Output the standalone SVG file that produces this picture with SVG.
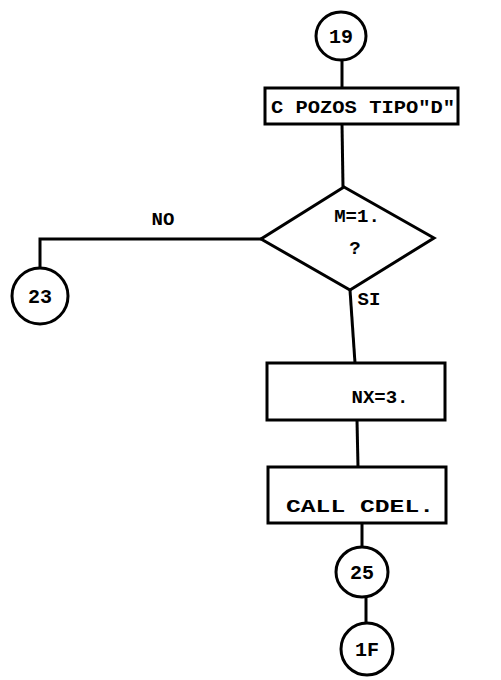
<svg xmlns="http://www.w3.org/2000/svg" width="501" height="680" viewBox="0 0 501 680">
<style>
.s{fill:#fff;stroke:#000;stroke-width:3}
.c{fill:none;stroke:#000;stroke-width:3}
text{font-family:"Liberation Mono","DejaVu Sans Mono",monospace;font-weight:bold;fill:#000;text-anchor:middle}
.t{font-size:19px}
.n{font-size:20px}
</style>
<rect width="501" height="680" fill="#fff"/>
<g id="connectors" class="c">
<line x1="342" y1="60" x2="342" y2="88"/>
<line x1="342" y1="124" x2="343" y2="187"/>
<polyline points="261,239 40,239 40,268"/>
<line x1="350" y1="290" x2="355" y2="363"/>
<line x1="357" y1="420" x2="358" y2="467"/>
<line x1="362" y1="523" x2="362" y2="547"/>
<line x1="366" y1="597" x2="366" y2="623"/>
</g>
<g id="n19"><ellipse class="s" cx="341" cy="36" rx="25" ry="24"/><text class="n" x="341" y="43">19</text></g>
<g id="box1"><rect class="s" x="265" y="88" width="193" height="36"/><text class="t" x="363" y="113" textLength="184" lengthAdjust="spacingAndGlyphs">C POZOS TIPO"D"</text></g>
<g id="dec"><polygon class="s" points="344,187 434,238 350,290 261,239"/><text class="t" x="357" y="222">M=1.</text><text class="t" x="355" y="254">?</text></g>
<g id="lblno"><text class="t" x="163" y="225" font-size="17">NO</text></g>
<g id="lblsi"><text class="t" x="369" y="305" font-size="20">SI</text></g>
<g id="n23"><ellipse class="s" cx="40" cy="296" rx="28" ry="28"/><text class="n" x="40" y="303">23</text></g>
<g id="box2"><rect class="s" x="267" y="363" width="178" height="57"/><text class="t" x="380" y="403">NX=3.</text></g>
<g id="box3"><rect class="s" x="268" y="467" width="178" height="56"/><text class="t" x="360" y="512" textLength="148" lengthAdjust="spacingAndGlyphs">CALL CDEL.</text></g>
<g id="n25"><ellipse class="s" cx="362" cy="572" rx="26" ry="25"/><text class="n" x="362" y="579">25</text></g>
<g id="n1F"><ellipse class="s" cx="367" cy="649" rx="26" ry="26"/><text class="n" x="367" y="656">1F</text></g>
</svg>
